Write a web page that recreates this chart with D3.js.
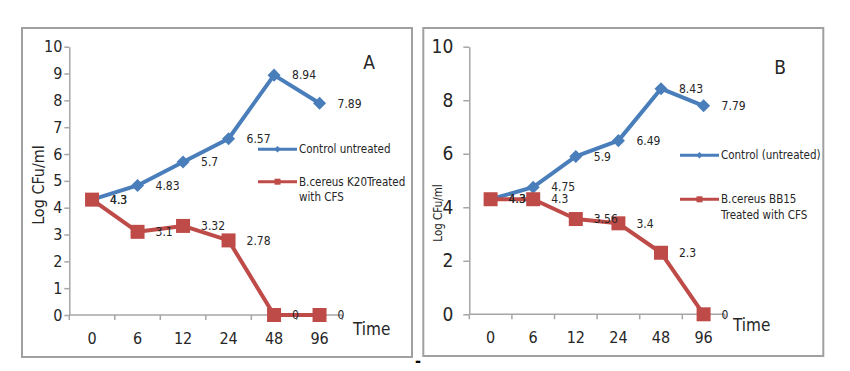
<!DOCTYPE html>
<html>
<head>
<meta charset="utf-8">
<script src="https://cdn.jsdelivr.net/npm/d3@7"></script>
<style>
  body { margin: 0; background: #fff; }
  svg { display: block; }
  text { font-family: "Liberation Sans Narrow", "DejaVu Sans Condensed", "Liberation Sans", sans-serif; fill: #262626; }
</style>
</head>
<body>
<svg id="chart" width="850" height="371"></svg>
<script>
var times = ["0", "6", "12", "24", "48", "96"]

// panel A
var controlA = [4.3, 4.83, 5.7, 6.57, 8.94, 7.89]
var treatedA = [4.3, 3.1, 3.32, 2.78, 0, 0]
var legendA = ["Control untreated", ["B.cereus K20Treated", "with CFS"]]
var yTicksA = [0, 1, 2, 3, 4, 5, 6, 7, 8, 9, 10]

// panel B
var controlB = [4.3, 4.75, 5.9, 6.49, 8.43, 7.79]
var treatedB = [4.3, 4.3, 3.56, 3.4, 2.3, 0]
var legendB = ["Control (untreated)", ["B.cereus BB15", "Treated with CFS"]]
var yTicksB = [0, 2, 4, 6, 8, 10]

var blue = "#4a7ebb", red = "#be4b48", axisGrey = "#a6a6a6"

var svg = d3.select("#chart")

function drawPanel(p) {
  var g = svg.append("g")

  // outer frame
  g.append("rect")
    .attr("x", p.frame[0]).attr("y", p.frame[1])
    .attr("width", p.frame[2]).attr("height", p.frame[3])
    .attr("fill", "white").attr("stroke", "#a0a0a0").attr("stroke-width", 2)

  var x = d3.scaleBand().domain(times).range([p.left, p.left + p.bandW * times.length])
  var y = d3.scaleLinear().domain([0, 10]).range([p.bottom, p.top])

  // y axis
  var ya = g.append("g")
    .attr("transform", "translate(" + p.left + ",0)")
    .call(d3.axisLeft(y).tickValues(p.yTicks).tickSize(p.yTickSize).tickSizeOuter(0).tickPadding(p.yPad))
  ya.select(".domain").attr("stroke", axisGrey).attr("stroke-width", 1.5)
  ya.selectAll(".tick line").attr("stroke", axisGrey).attr("stroke-width", 1.5)
  ya.selectAll(".tick text").attr("font-size", p.yFont).attr("font-family", null).attr("fill", "#1a1a1a")

  // x axis (labels centered in bands, ticks on band edges)
  var xa = g.append("g")
    .attr("transform", "translate(0," + p.bottom + ")")
    .call(d3.axisBottom(x).tickSize(0).tickPadding(p.xPad))
  xa.select(".domain").attr("d", "M" + x.range()[0] + ",0H" + x.range()[1])
    .attr("stroke", axisGrey).attr("stroke-width", 1.5)
  xa.selectAll(".tick text").attr("font-size", 16).attr("font-family", null).attr("fill", "#1a1a1a")
  xa.selectAll(".edge")
    .data(times.map(function(t) { return x(t) }).concat([x.range()[1]]))
    .enter().append("line")
    .attr("x1", function(d) { return d }).attr("x2", function(d) { return d })
    .attr("y1", 0).attr("y2", 5)
    .attr("stroke", axisGrey).attr("stroke-width", 1.5)

  var cx = function(d, i) { return x(times[i]) + x.bandwidth() / 2 }
  var line = d3.line().x(cx).y(function(d) { return y(d) })

  var series = [
    { values: p.control, color: blue, sym: "diamond", size: 85 },
    { values: p.treated, color: red, sym: "square", size: 196 }
  ]

  series.forEach(function(s) {
    g.append("path")
      .attr("d", line(s.values))
      .attr("fill", "none").attr("stroke", s.color).attr("stroke-width", 4)
      .attr("stroke-linejoin", "round")
    g.selectAll(null)
      .data(s.values).enter().append("path")
      .attr("d", d3.symbol().type(d3.symbolSquare).size(s.size))
      .attr("transform", function(d, i) {
        return "translate(" + cx(d, i) + "," + y(d) + ")" + (s.sym == "diamond" ? " rotate(45)" : "")
      })
      .attr("fill", s.color)
  })

  // data labels
  series.forEach(function(s) {
    g.selectAll(null)
      .data(s.values).enter().append("text")
      .attr("x", function(d, i) { return cx(d, i) + 18 })
      .attr("y", function(d) { return y(d) })
      .attr("dy", "0.35em")
      .attr("font-size", 12)
      .text(function(d) { return d })
  })

  // legend
  var lg = g.append("g").attr("transform", "translate(" + p.legend[0] + "," + p.legend[1] + ")")
  var items = [
    { color: blue, sym: "diamond", size: 22, text: [p.legendText[0]], dy: 0 },
    { color: red, sym: "square", size: 36, text: p.legendText[1], dy: p.legendGap }
  ]
  items.forEach(function(it) {
    var row = lg.append("g").attr("transform", "translate(0," + it.dy + ")")
    row.append("line").attr("x1", 0).attr("x2", 39).attr("y1", 0).attr("y2", 0)
      .attr("stroke", it.color).attr("stroke-width", 3)
    row.append("path")
      .attr("d", d3.symbol().type(d3.symbolSquare).size(it.size))
      .attr("transform", "translate(19.5,0)" + (it.sym == "diamond" ? " rotate(45)" : ""))
      .attr("fill", it.color)
    it.text.forEach(function(t, k) {
      row.append("text").attr("x", 41).attr("y", k * 15.5).attr("dy", "0.35em")
        .attr("font-size", 11.5).text(t)
    })
  })

  // axis titles and panel letter
  g.append("text")
    .attr("transform", "translate(" + p.yTitle[0] + "," + p.yTitle[1] + ") rotate(-90)")
    .attr("text-anchor", "middle").attr("dy", "0.35em")
    .attr("font-size", p.yTitleFont).text("Log CFu/ml")
  g.append("text")
    .attr("x", p.timeLabel[0]).attr("y", p.timeLabel[1]).attr("dy", "0.35em")
    .attr("font-size", 17).text("Time")
  g.append("text")
    .attr("x", p.letter[0]).attr("y", p.letter[1]).attr("dy", "0.35em")
    .attr("text-anchor", "middle").attr("font-size", 19).text(p.letterText)
}

drawPanel({
  frame: [22, 28, 390, 329],
  left: 69.3, bandW: 45.5, top: 46.7, bottom: 315,
  yTicks: yTicksA, yTickSize: 5, yPad: 2, yFont: 16, xPad: 17.5,
  control: controlA, treated: treatedA,
  legend: [258, 149.3], legendGap: 32.4, legendText: legendA,
  yTitle: [38, 185], yTitleFont: 16,
  timeLabel: [353, 329], letter: [369, 62], letterText: "A"
})

drawPanel({
  frame: [423.3, 28, 400, 328],
  left: 469.3, bandW: 42.6, top: 46.7, bottom: 314.3,
  yTicks: yTicksB, yTickSize: 6, yPad: 10, yFont: 19, xPad: 17.8,
  control: controlB, treated: treatedB,
  legend: [680, 155.3], legendGap: 44, legendText: legendB,
  yTitle: [438, 213], yTitleFont: 11.5,
  timeLabel: [733, 325], letter: [780, 67], letterText: "B"
})

// stray dash between the panels
svg.append("text")
  .attr("x", 418).attr("y", 360).attr("dy", "0.35em")
  .attr("text-anchor", "middle").attr("font-size", 16).attr("font-weight", "bold")
  .style("fill", "#000").text("-")
</script>
</body>
</html>
